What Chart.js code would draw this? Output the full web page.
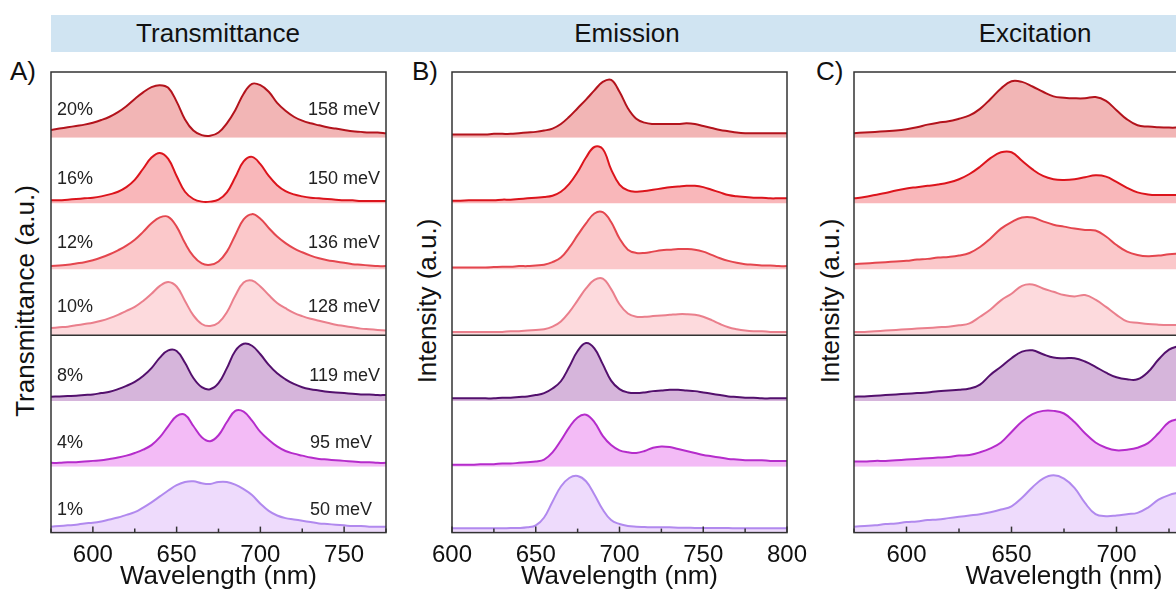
<!DOCTYPE html>
<html><head><meta charset="utf-8">
<script src="https://cdn.jsdelivr.net/npm/chart.js@4.4.1/dist/chart.umd.min.js"></script>
<style>
html,body{margin:0;padding:0;background:#fff;}
body{position:relative;width:1176px;height:592px;overflow:hidden;font-family:"Liberation Sans",Arial,sans-serif;color:#111;}
#band{position:absolute;left:51px;top:15px;width:1125px;height:37px;background:#d0e4f2;}
.title{position:absolute;top:15px;height:37px;line-height:37px;font-size:26px;transform:translateX(-50%);white-space:nowrap;}
.lab{position:absolute;font-size:26px;line-height:26px;transform:translateY(-50%);}
.ann{position:absolute;font-size:18px;line-height:18px;color:#222;transform:translateY(-50%);white-space:nowrap;}
.ytitle{position:absolute;font-size:26px;line-height:26px;transform:translate(-50%,-50%) rotate(-90deg);white-space:nowrap;}
canvas{position:absolute;top:0;}
</style></head>
<body>
<div id="band"></div>
<div class="title" style="left:218px">Transmittance</div>
<div class="title" style="left:627px">Emission</div>
<div class="title" style="left:1035px">Excitation</div>
<div class="lab" style="left:10px;top:71px">A)</div>
<div class="lab" style="left:412px;top:71px">B)</div>
<div class="lab" style="left:816px;top:71px">C)</div>
<div class="ytitle" style="left:25px;top:301px">Transmittance (a.u.)</div>
<div class="ytitle" style="left:427px;top:301px">Intensity (a.u.)</div>
<div class="ytitle" style="left:830px;top:301px">Intensity (a.u.)</div>
<canvas id="cA" width="400" height="592" style="left:0px"></canvas>
<canvas id="cB" width="410" height="592" style="left:400px"></canvas>
<canvas id="cC" width="500" height="592" style="left:800px"></canvas>
<div id="anns"></div>
<script>
// ---------- data ----------
const dopings = ['20%','16%','12%','10%','8%','4%','1%'];
const splittings = ['158 meV','150 meV','136 meV','128 meV','119 meV','95 meV','50 meV'];

const wlA = [575,580,585,590,595,600,605,610,615,620,625,630,635,640,645,650,655,660,665,670,675,680,685,690,695,700,705,710,715,720,725,730,735,740,745,750,755,760,765,770,775];
const trans20 = [0.12,0.14,0.16,0.18,0.20,0.23,0.27,0.32,0.39,0.48,0.59,0.69,0.77,0.80,0.76,0.55,0.28,0.11,0.04,0.03,0.08,0.22,0.42,0.67,0.82,0.80,0.70,0.53,0.41,0.32,0.26,0.22,0.19,0.16,0.14,0.12,0.10,0.09,0.08,0.08,0.07];
const trans16 = [0.05,0.05,0.06,0.07,0.08,0.09,0.11,0.14,0.18,0.25,0.36,0.53,0.70,0.77,0.68,0.42,0.18,0.07,0.03,0.03,0.06,0.17,0.40,0.64,0.71,0.60,0.42,0.28,0.19,0.14,0.11,0.09,0.08,0.07,0.06,0.05,0.05,0.04,0.04,0.04,0.04];
const trans12 = [0.05,0.06,0.07,0.09,0.11,0.14,0.18,0.23,0.29,0.36,0.45,0.57,0.70,0.79,0.80,0.65,0.40,0.20,0.09,0.07,0.12,0.27,0.52,0.76,0.84,0.77,0.63,0.50,0.40,0.32,0.26,0.21,0.17,0.14,0.12,0.10,0.08,0.07,0.06,0.05,0.05];
const trans10 = [0.11,0.12,0.13,0.15,0.17,0.19,0.22,0.26,0.31,0.37,0.43,0.52,0.63,0.75,0.81,0.74,0.52,0.30,0.17,0.14,0.19,0.35,0.60,0.80,0.83,0.74,0.61,0.49,0.41,0.34,0.29,0.25,0.22,0.19,0.16,0.14,0.12,0.10,0.09,0.08,0.07];
const trans8  = [0.065,0.07,0.075,0.08,0.09,0.10,0.12,0.14,0.18,0.23,0.29,0.38,0.50,0.66,0.77,0.76,0.58,0.35,0.21,0.18,0.27,0.50,0.76,0.87,0.84,0.71,0.55,0.42,0.33,0.26,0.21,0.18,0.16,0.14,0.13,0.12,0.11,0.10,0.10,0.09,0.09];
const trans4  = [0.06,0.06,0.07,0.07,0.08,0.09,0.10,0.12,0.14,0.17,0.21,0.26,0.33,0.45,0.62,0.77,0.79,0.62,0.45,0.39,0.48,0.68,0.85,0.84,0.70,0.53,0.41,0.31,0.24,0.20,0.17,0.14,0.12,0.11,0.10,0.09,0.08,0.07,0.07,0.06,0.06];
const trans1  = [0.09,0.10,0.11,0.12,0.14,0.15,0.17,0.20,0.23,0.27,0.31,0.38,0.46,0.55,0.64,0.72,0.77,0.78,0.75,0.74,0.77,0.77,0.73,0.66,0.57,0.44,0.33,0.26,0.22,0.20,0.18,0.16,0.14,0.13,0.12,0.11,0.10,0.10,0.09,0.09,0.09];

const wlB = [600,605,610,615,620,625,630,635,640,645,650,655,660,665,670,675,680,685,690,695,700,705,710,715,720,725,730,735,740,745,750,755,760,765,770,775,780,785,790,795,800];
const emis20 = [0.05,0.05,0.05,0.05,0.05,0.06,0.06,0.06,0.07,0.08,0.09,0.11,0.14,0.21,0.32,0.45,0.58,0.72,0.85,0.88,0.70,0.45,0.29,0.23,0.21,0.21,0.21,0.21,0.22,0.21,0.18,0.15,0.12,0.10,0.08,0.07,0.07,0.07,0.07,0.07,0.07];
const emis16 = [0.045,0.045,0.05,0.05,0.05,0.05,0.06,0.06,0.07,0.08,0.09,0.10,0.12,0.18,0.30,0.48,0.70,0.86,0.83,0.52,0.29,0.20,0.18,0.19,0.21,0.23,0.25,0.26,0.27,0.27,0.25,0.21,0.17,0.13,0.11,0.10,0.09,0.09,0.08,0.08,0.08];
const emis12 = [0.03,0.03,0.03,0.03,0.03,0.035,0.04,0.04,0.05,0.05,0.06,0.07,0.11,0.18,0.33,0.52,0.70,0.85,0.87,0.72,0.47,0.30,0.25,0.25,0.27,0.29,0.30,0.31,0.31,0.30,0.27,0.22,0.17,0.13,0.10,0.08,0.07,0.06,0.06,0.05,0.05];
const emis10 = [0.05,0.05,0.05,0.05,0.05,0.05,0.05,0.06,0.06,0.07,0.08,0.09,0.13,0.21,0.35,0.53,0.71,0.84,0.86,0.70,0.47,0.33,0.28,0.28,0.29,0.30,0.31,0.32,0.32,0.31,0.28,0.23,0.17,0.12,0.09,0.07,0.06,0.06,0.05,0.05,0.05];
const emis8  = [0.04,0.04,0.04,0.04,0.04,0.04,0.05,0.05,0.06,0.07,0.09,0.12,0.19,0.30,0.52,0.76,0.88,0.80,0.56,0.31,0.18,0.13,0.12,0.13,0.15,0.16,0.17,0.17,0.16,0.15,0.13,0.11,0.09,0.07,0.06,0.05,0.05,0.04,0.04,0.04,0.04];
const emis4  = [0.03,0.03,0.03,0.035,0.04,0.04,0.05,0.05,0.06,0.07,0.08,0.11,0.22,0.40,0.60,0.75,0.79,0.68,0.47,0.33,0.25,0.22,0.21,0.24,0.29,0.31,0.30,0.27,0.24,0.21,0.18,0.16,0.14,0.12,0.11,0.10,0.10,0.10,0.09,0.09,0.09];
const emis1  = [0.065,0.065,0.065,0.065,0.065,0.065,0.065,0.07,0.07,0.08,0.11,0.23,0.47,0.70,0.83,0.86,0.78,0.58,0.35,0.19,0.13,0.10,0.09,0.085,0.08,0.08,0.08,0.075,0.075,0.07,0.07,0.07,0.07,0.07,0.065,0.065,0.065,0.065,0.065,0.065,0.065];

const wlC = [575,580,585,590,595,600,605,610,615,620,625,630,635,640,645,650,655,660,665,670,675,680,685,690,695,700,705,710,715,720,725,730];
const exc20 = [0.07,0.08,0.09,0.10,0.11,0.13,0.16,0.20,0.23,0.25,0.29,0.34,0.44,0.59,0.75,0.86,0.85,0.78,0.70,0.63,0.61,0.60,0.60,0.62,0.56,0.42,0.28,0.19,0.17,0.16,0.155,0.155];
const exc16 = [0.08,0.10,0.13,0.16,0.20,0.23,0.25,0.27,0.29,0.32,0.37,0.45,0.56,0.69,0.78,0.78,0.65,0.52,0.42,0.37,0.36,0.37,0.40,0.43,0.41,0.33,0.24,0.17,0.14,0.13,0.13,0.13];
const exc12 = [0.08,0.09,0.10,0.11,0.12,0.13,0.15,0.16,0.18,0.19,0.21,0.25,0.34,0.47,0.62,0.72,0.79,0.79,0.73,0.68,0.65,0.62,0.60,0.59,0.50,0.37,0.27,0.22,0.20,0.21,0.23,0.24];
const exc10 = [0.05,0.05,0.06,0.07,0.08,0.09,0.10,0.11,0.12,0.13,0.15,0.18,0.28,0.39,0.53,0.63,0.75,0.77,0.71,0.66,0.61,0.59,0.61,0.54,0.43,0.31,0.21,0.19,0.17,0.16,0.155,0.155];
const exc8  = [0.065,0.07,0.08,0.09,0.10,0.11,0.12,0.13,0.15,0.16,0.17,0.19,0.25,0.40,0.52,0.65,0.75,0.77,0.71,0.66,0.65,0.65,0.60,0.52,0.43,0.36,0.33,0.33,0.44,0.63,0.78,0.84];
const exc4  = [0.08,0.08,0.09,0.09,0.10,0.11,0.12,0.13,0.14,0.15,0.17,0.18,0.22,0.28,0.37,0.53,0.69,0.80,0.85,0.85,0.81,0.68,0.51,0.37,0.29,0.25,0.26,0.29,0.36,0.51,0.68,0.73];
const exc1  = [0.09,0.10,0.11,0.13,0.14,0.16,0.17,0.19,0.20,0.22,0.24,0.26,0.28,0.31,0.35,0.40,0.53,0.69,0.82,0.87,0.82,0.68,0.45,0.28,0.25,0.26,0.28,0.30,0.38,0.50,0.57,0.61];

const xLabelsA = [600,650,700,750];
const xLabelsB = [600,650,700,750,800];
const xLabelsC = [600,650,700,750];

// ---------- styles ----------
const lineCols = ['#b3131c','#dc141c','#e4464e','#ea7f8c','#53106d','#b52ccb','#b189ee'];
const fillCols = ['#f2b5b5','#f9b7ba','#fbc8ca','#fddadd','#d6b5db','#f3bbf6','#eedbfc'];
const FONT = '"Liberation Sans", Arial, sans-serif';

const framePlugin = {
  id: 'frame',
  afterDatasetsDraw(chart) {
    const {ctx, chartArea: a, scales} = chart;
    ctx.save();
    ctx.strokeStyle = '#333';
    ctx.lineWidth = 1.5;
    ctx.strokeRect(a.left, a.top, a.right - a.left, a.bottom - a.top);
    const yDiv = scales.y3.bottom;
    ctx.beginPath(); ctx.moveTo(a.left, yDiv); ctx.lineTo(a.right, yDiv); ctx.stroke();
    const xs = scales.x;
    xs.ticks.forEach(t => {
      const px = xs.getPixelForValue(t.value);
      const len = (t.value % 50 === 0) ? 6 : 4;
      ctx.beginPath(); ctx.moveTo(px, a.bottom); ctx.lineTo(px, a.bottom - len); ctx.stroke();
    });
    ctx.restore();
  }
};

function makeChart(id, wl, series, xmin, xmax, labels, padL, padR) {
  const scales = {
    x: {
      type: 'linear', min: xmin, max: xmax,
      grid: {display: false}, border: {display: false},
      ticks: {stepSize: 25, autoSkip: false, maxRotation: 0, padding: 0, color: '#111',
        font: {family: FONT, size: 24},
        callback: v => labels.includes(v) ? String(v) : ''},
      title: {display: true, text: 'Wavelength (nm)', color: '#111',
        font: {family: FONT, size: 26}, padding: {top: 0, bottom: 0}},
      afterFit(s) { s.height = 59.4; }
    }
  };
  for (let i = 0; i < 7; i++) {
    scales['y' + i] = {type: 'linear', min: 0, max: 1, stack: 'slots', stackWeight: 1,
      position: 'left', display: false, weight: 7 - i};
  }
  const datasets = series.map((vals, i) => ({
    data: wl.map((x, j) => ({x, y: vals[j]})),
    yAxisID: 'y' + i,
    borderColor: lineCols[i], backgroundColor: fillCols[i],
    borderWidth: 2, fill: 'start', pointRadius: 0,
    tension: 0.4
  }));
  return new Chart(document.getElementById(id), {
    type: 'line',
    data: {datasets},
    options: {
      responsive: false, animation: false, events: [],
      layout: {padding: {left: padL, right: padR, top: 72, bottom: 0}},
      plugins: {legend: {display: false}, tooltip: {enabled: false}},
      scales
    },
    plugins: [framePlugin]
  });
}

makeChart('cA', wlA, [trans20,trans16,trans12,trans10,trans8,trans4,trans1], 575, 775, xLabelsA, 51, 14);
makeChart('cB', wlB, [emis20,emis16,emis12,emis10,emis8,emis4,emis1], 600, 800, xLabelsB, 52, 23);
makeChart('cC', wlC, [exc20,exc16,exc12,exc10,exc8,exc4,exc1], 575, 775, xLabelsC, 54, 26);

// annotations (panel A)
const annY = [109,178,242,306,375,442,509];
const annR = [380,380,380,380,380,372,372];
const host = document.getElementById('anns');
dopings.forEach((d, i) => {
  const l = document.createElement('div'); l.className = 'ann';
  l.style.left = '57px'; l.style.top = annY[i] + 'px'; l.textContent = d; host.appendChild(l);
  const r = document.createElement('div'); r.className = 'ann';
  r.style.right = (1176 - annR[i]) + 'px'; r.style.top = annY[i] + 'px'; r.textContent = splittings[i]; host.appendChild(r);
});
</script>
</body></html>
